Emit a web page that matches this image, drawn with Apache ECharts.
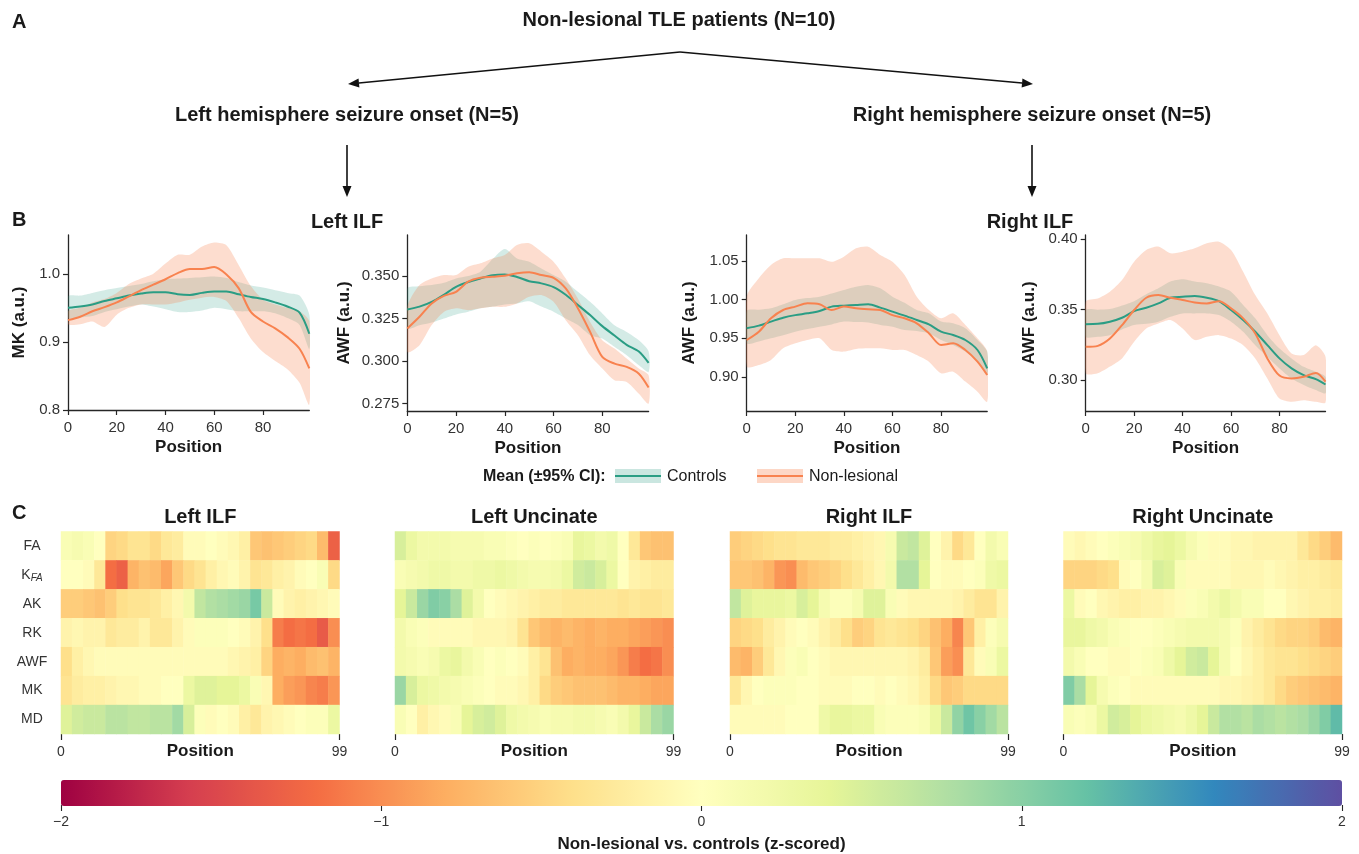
<!DOCTYPE html>
<html><head><meta charset="utf-8">
<script src="https://cdn.jsdelivr.net/npm/echarts@6/dist/echarts.min.js"></script>
<style>html,body{margin:0;padding:0;background:#fff}#c{width:1359px;height:854px}</style>
</head><body><div id="c"></div>
<script>
// ---------- DATA ----------
const positions = [0,5,10,15,20,25,30,35,40,45,50,55,60,65,70,75,80,85,90,95,99];

// Panel B1: Left ILF, MK
const mkCtrlMean = [.950,.952,.955,.960,.964,.968,.971,.973,.973,.970,.969,.972,.974,.974,.970,.966,.963,.958,.952,.943,.912];
const mkCtrlLo   = [.935,.936,.938,.944,.948,.952,.955,.952,.948,.944,.944,.946,.950,.948,.945,.945,.945,.942,.935,.925,.890];
const mkCtrlHi   = [.967,.968,.972,.976,.979,.982,.985,.989,.992,.993,.994,.995,.996,.994,.988,.983,.980,.976,.972,.968,.940];
const mkNlMean   = [.932,.937,.945,.951,.958,.967,.976,.984,.992,1.001,1.007,1.007,1.010,.999,.979,.944,.930,.920,.907,.890,.861];
const mkNlLo     = [.926,.926,.930,.922,.940,.950,.955,.955,.955,.958,.962,.965,.966,.960,.935,.905,.885,.872,.860,.840,.808];
const mkNlHi     = [.945,.950,.958,.963,.972,.985,.993,1.000,1.015,1.028,1.028,1.040,1.046,1.042,1.013,.982,.962,.955,.950,.945,.930];

// Panel B2: Left ILF, AWF
const awfLCtrlMean = [.3303,.332,.3348,.339,.3437,.3465,.3486,.3505,.351,.3495,.347,.3457,.3435,.339,.333,.327,.3205,.315,.3095,.3055,.2988];
const awfLCtrlLo   = [.3191,.321,.3226,.325,.3274,.329,.331,.332,.3333,.3339,.3352,.332,.329,.325,.3211,.3152,.3132,.3083,.3033,.2974,.2935];
const awfLCtrlHi   = [.3427,.344,.3447,.346,.3486,.350,.3526,.360,.366,.3604,.3585,.3545,.3506,.3467,.3407,.3348,.328,.321,.3171,.3122,.3057];
const awfLNlMean   = [.3191,.326,.3339,.3383,.3407,.3467,.349,.3496,.3502,.3516,.3522,.3506,.349,.3427,.331,.3171,.3024,.2984,.2965,.2925,.2843];
const awfLNlLo     = [.3053,.3093,.3211,.3289,.331,.3299,.331,.3319,.3319,.3339,.3378,.3388,.3348,.324,.3152,.3033,.2955,.2886,.2876,.2807,.2748];
const awfLNlHi     = [.3319,.3447,.3486,.3506,.3506,.3555,.3575,.3604,.3624,.3683,.3693,.3644,.3585,.3486,.3368,.323,.3122,.3073,.3014,.2955,.2915];

// Panel B3: Right ILF, AWF (first)
const awfR1CtrlMean = [.963,.9664,.9716,.9767,.980,.9823,.9853,.991,.9922,.9931,.994,.9897,.9845,.9793,.9737,.968,.9586,.9543,.9478,.9349,.9112];
const awfR1CtrlLo   = [.9435,.946,.950,.954,.9586,.962,.9651,.968,.9716,.971,.9703,.9672,.9651,.9608,.9595,.9565,.9478,.9414,.9328,.9198,.9026];
const awfR1CtrlHi   = [.9853,.987,.9888,.994,.9996,1.002,1.0039,1.008,1.0125,1.0168,1.019,1.0147,1.0039,.996,.9866,.9823,.9716,.9694,.963,.9478,.9328];
const awfR1NlMean   = [.9478,.9586,.9759,.9866,.991,.9953,.994,.9866,.991,.9888,.9875,.9866,.980,.9759,.9694,.9565,.9414,.9435,.9349,.9198,.9026];
const awfR1NlLo     = [.9134,.9155,.922,.937,.9435,.9478,.950,.9349,.9328,.9362,.937,.937,.9349,.9349,.9284,.9198,.9047,.9069,.894,.881,.868];
const awfR1NlHi     = [1.0039,1.0276,1.0448,1.0534,1.0534,1.0534,1.0534,1.049,1.0556,1.0664,1.0685,1.0578,1.049,1.0319,1.0039,.9866,.9759,.9823,.9672,.950,.9328];

// Panel B4: Right ILF, AWF (second)
const awfR2CtrlMean = [.3398,.340,.3415,.3443,.349,.3514,.3545,.3585,.3592,.3597,.3585,.3561,.3498,.3427,.3344,.3249,.3155,.3084,.3036,.3008,.297];
const awfR2CtrlLo   = [.3308,.3308,.332,.336,.3391,.340,.3415,.345,.3474,.3474,.3474,.3462,.3415,.3344,.3249,.3167,.3084,.3013,.2967,.2931,.2908];
const awfR2CtrlHi   = [.3498,.350,.3505,.353,.3561,.361,.3652,.370,.3716,.370,.3687,.3664,.3628,.3534,.3439,.332,.3225,.3155,.3095,.306,.3024];
const awfR2NlMean   = [.3237,.3244,.3296,.3391,.3498,.3585,.3604,.3585,.3569,.3552,.3545,.3561,.351,.3439,.3332,.3155,.3033,.3013,.3025,.3052,.299];
const awfR2NlLo     = [.305,.305,.3097,.3155,.3273,.3367,.3403,.3427,.3367,.3285,.3308,.332,.3296,.3249,.3155,.3013,.287,.2847,.2858,.2847,.2842];
const awfR2NlHi     = [.3557,.358,.3628,.3711,.3841,.3924,.3948,.390,.3912,.3936,.3972,.3983,.3924,.377,.3604,.3474,.332,.319,.3179,.3249,.3167];

// Tick labels
const xTicksLine = [0,20,40,60,80];
const yTicksB1 = [0.8,0.9,1.0];
const yTicksB2 = [0.275,0.3,0.325,0.35];
const yTicksB3 = [0.9,0.95,1.0,1.05];
const yTicksB4 = [0.3,0.35,0.4];
const colorbarTicks = [-2,-1,0,1,2];

// Panel C heatmaps: rows FA, KFA, AK, RK, AWF, MK, MD; 25 bins of 4 positions
const rowNames = ['FA','KFA','AK','RK','AWF','MK','MD'];
const binStarts = ['0','4','8','12','16','20','24','28','32','36','40','44','48','52','56','60','64','68','72','76','80','84','88','92','96'];
const hmLeftILF = [
 [0.1,0.15,0.1,0,-0.5,-0.45,-0.35,-0.35,-0.45,-0.3,-0.25,-0.05,-0.05,0,-0.05,-0.1,-0.2,-0.6,-0.65,-0.6,-0.55,-0.5,-0.45,-0.7,-1.3],
 [0,0,-0.05,-0.3,-1.2,-1.3,-0.75,-0.65,-0.7,-0.85,-0.6,-0.45,-0.35,-0.2,-0.1,-0.05,-0.15,-0.35,-0.3,-0.2,-0.15,-0.05,0,0.1,-0.45],
 [-0.55,-0.55,-0.6,-0.65,-0.55,-0.4,-0.35,-0.35,-0.3,-0.2,-0.1,0.2,0.65,0.75,0.8,0.85,0.9,1.1,0.6,-0.05,-0.15,-0.2,-0.15,-0.1,-0.05],
 [-0.15,-0.1,-0.15,-0.15,-0.3,-0.25,-0.25,-0.15,-0.3,-0.3,-0.15,-0.05,0.05,0.05,0.05,0,-0.05,-0.15,-0.4,-1.1,-1.2,-1.15,-1.2,-1.35,-1.0],
 [-0.4,-0.2,-0.1,-0.05,-0.05,-0.05,-0.05,-0.05,-0.05,-0.05,-0.05,-0.05,-0.05,-0.05,-0.05,-0.1,-0.15,-0.2,-0.5,-0.8,-0.75,-0.8,-0.7,-0.65,-0.75],
 [-0.35,-0.25,-0.2,-0.2,-0.15,-0.1,-0.1,-0.05,-0.05,0,0,0.3,0.45,0.45,0.4,0.4,0.3,0.1,-0.1,-0.8,-0.9,-0.95,-1.05,-1.1,-0.95],
 [0.45,0.55,0.6,0.6,0.7,0.7,0.65,0.65,0.7,0.7,0.85,0.5,0.05,-0.05,0,-0.05,-0.2,-0.3,-0.15,-0.1,-0.05,0,0.05,0.05,0.3]
];
const hmLeftUnc = [
 [0.5,0.3,0.2,0.2,0.2,0.15,0.15,0.15,0.1,0.1,0.05,0,0.05,0,0.05,0.1,0.35,0.3,0.2,0.25,0,-0.3,-0.6,-0.65,-0.65],
 [0.1,0.15,0.2,0.25,0.25,0.2,0.2,0.25,0.25,0.3,0.25,0.2,0.15,0.15,0.2,0.3,0.55,0.6,0.5,0.3,0,-0.15,-0.2,-0.25,-0.25],
 [0.4,0.6,0.9,1.05,1.0,0.8,0.45,0.2,0,-0.05,-0.1,-0.15,-0.2,-0.25,-0.25,-0.3,-0.3,-0.3,-0.3,-0.3,-0.35,-0.3,-0.35,-0.35,-0.3],
 [0.2,0.1,0.05,-0.05,-0.05,-0.05,-0.05,-0.1,-0.1,-0.1,-0.15,-0.35,-0.6,-0.7,-0.75,-0.7,-0.75,-0.8,-0.75,-0.8,-0.8,-0.85,-0.9,-0.95,-1.0],
 [0.2,0.15,0.1,0.15,0.3,0.35,0.2,0.1,0,0.05,0,-0.05,-0.2,-0.35,-0.65,-0.8,-0.75,-0.8,-0.8,-0.85,-0.95,-1.1,-1.2,-1.15,-1.0],
 [0.9,0.5,0.3,0.25,0.2,0.15,0.1,0.05,0,-0.05,-0.05,-0.1,-0.2,-0.45,-0.55,-0.6,-0.65,-0.65,-0.65,-0.7,-0.75,-0.75,-0.8,-0.85,-0.85],
 [0.1,0,-0.2,-0.1,-0.05,0.1,0.4,0.5,0.55,0.45,0.25,0.2,0.15,0.1,0.15,0.15,0.2,0.2,0.15,0.1,0.2,0.35,0.6,0.8,0.9]
];
const hmRightILF = [
 [-0.55,-0.5,-0.45,-0.4,-0.35,-0.35,-0.3,-0.3,-0.3,-0.25,-0.25,-0.2,-0.15,-0.1,0.15,0.6,0.65,0.45,0,-0.15,-0.45,-0.3,0,0.2,0.1],
 [-0.6,-0.6,-0.65,-0.75,-0.95,-1.0,-0.7,-0.6,-0.55,-0.5,-0.4,-0.3,-0.2,-0.1,0.2,0.75,0.75,0.4,0,-0.05,-0.05,0,0.05,0.25,0.3],
 [0.65,0.45,0.35,0.35,0.35,0.3,0.5,0.4,0.15,0.05,0.05,0.15,0.45,0.45,0.1,-0.05,-0.1,-0.1,-0.1,-0.1,-0.15,-0.25,-0.35,-0.35,-0.15],
 [-0.5,-0.45,-0.4,-0.25,-0.15,-0.05,0,-0.05,-0.15,-0.25,-0.4,-0.55,-0.5,-0.35,-0.3,-0.35,-0.4,-0.5,-0.65,-0.8,-1.05,-0.6,-0.2,0.05,0.15],
 [-0.7,-0.75,-0.55,-0.3,-0.1,0.05,0.1,0,-0.05,-0.1,-0.1,-0.1,-0.1,-0.1,-0.1,-0.1,-0.15,-0.25,-0.6,-0.9,-1.0,-0.3,-0.05,0.1,0.3],
 [-0.3,-0.1,0,0.05,0.05,0.05,0,0,-0.05,-0.05,-0.05,0,0,-0.05,0,-0.05,-0.1,-0.2,-0.45,-0.6,-0.55,-0.45,-0.45,-0.45,-0.45],
 [-0.05,-0.05,-0.05,-0.05,-0.05,0,0,0,0.25,0.35,0.35,0.3,0.3,0.1,0.05,0.05,0.05,0.1,0.3,0.6,0.95,1.15,1.0,0.85,0.7]
];
const hmRightUnc = [
 [-0.05,-0.1,-0.05,0,0.05,0.1,0.15,0.25,0.35,0.4,0.3,0.15,0.05,-0.05,-0.05,-0.1,-0.1,-0.15,-0.15,-0.15,-0.15,-0.3,-0.45,-0.55,-0.7],
 [-0.5,-0.5,-0.5,-0.45,-0.4,-0.05,0,0.15,0.5,0.45,0.1,-0.05,-0.05,-0.05,-0.05,-0.1,-0.1,-0.1,-0.05,-0.1,-0.15,-0.2,-0.2,-0.25,-0.3],
 [0.3,-0.05,0,-0.1,-0.15,-0.2,-0.2,-0.15,-0.15,-0.1,-0.05,0.05,0.1,0.2,0.3,0.2,0.1,0.1,0,0,-0.1,-0.15,-0.2,-0.2,-0.25],
 [0.35,0.35,0.25,0.2,0.1,0.05,0,0,0.05,0.1,0.15,0.2,0.2,0.2,0.15,0.05,-0.15,-0.25,-0.35,-0.45,-0.5,-0.5,-0.55,-0.7,-0.75],
 [0.2,0.1,0,0,-0.05,-0.05,0,0.05,0.1,0.25,0.4,0.55,0.6,0.4,0.15,0,-0.1,-0.2,-0.3,-0.35,-0.35,-0.4,-0.45,-0.5,-0.55],
 [1.05,0.8,0.4,0.15,0.05,0,-0.05,-0.05,-0.05,-0.05,-0.05,-0.05,-0.05,-0.05,-0.1,-0.1,-0.15,-0.2,-0.3,-0.45,-0.55,-0.6,-0.65,-0.7,-0.75],
 [0.1,0.05,0.1,0.3,0.55,0.5,0.4,0.3,0.25,0.2,0.15,0.25,0.4,0.6,0.75,0.75,0.7,0.8,0.75,0.7,0.75,0.8,0.9,1.05,1.25]
];

// ---------- STYLE / LAYOUT ----------
const F = '"Liberation Sans", Arial, Helvetica, sans-serif';
const TXT = '#1a1a1a', AX = '#262626', LBL = '#333333';
const TEAL = '#2a9d84', ORANGE = '#f8824f';
const SPECTRAL = ['#9e0142','#d53e4f','#f46d43','#fdae61','#fee08b','#ffffbf','#e6f598','#abdda4','#66c2a5','#3288bd','#5e4fa2'];

const chart = echarts.init(document.getElementById('c'), null, {renderer:'canvas'});

const lineGrids = [
  {left:68, top:235, width:241.3, height:175},
  {left:407.3, top:235, width:241.3, height:176},
  {left:746.7, top:235, width:240.5, height:176},
  {left:1085.7, top:235, width:239.8, height:176}
];
const yCfg = [
  {min:0.8, max:1.057, ticks:yTicksB1, dec:1, name:'MK (a.u.)', gap:40},
  {min:0.2705, max:0.3742, ticks:yTicksB2, dec:3, name:'AWF (a.u.)', gap:54},
  {min:0.856, max:1.0836, ticks:yTicksB3, dec:2, name:'AWF (a.u.)', gap:49},
  {min:0.2782, max:0.403, ticks:yTicksB4, dec:2, name:'AWF (a.u.)', gap:48}
];
const hmGrids = [
  {left:61, top:531.5, width:278.5, height:202.5},
  {left:395, top:531.5, width:278.5, height:202.5},
  {left:730, top:531.5, width:278, height:202.5},
  {left:1063.5, top:531.5, width:278.5, height:202.5}
];
const hmTitles = ['Left ILF','Left Uncinate','Right ILF','Right Uncinate'];
const hmData = [hmLeftILF, hmLeftUnc, hmRightILF, hmRightUnc];

const grids = lineGrids.concat(hmGrids).concat([{left:61, top:780, width:1281, height:26}]);

const axLine = {show:true, lineStyle:{color:AX, width:1.3}};
const xAxes = [], yAxes = [];
lineGrids.forEach((g,i)=>{
  xAxes.push({type:'value', gridIndex:i, min:0, max:99,
    axisLine:axLine, splitLine:{show:false},
    axisTick:{show:true, length:5, lineStyle:{color:AX, width:1.2}, customValues:xTicksLine},
    axisLabel:{customValues:xTicksLine, fontSize:15, color:LBL, fontFamily:F, margin:10},
    name:'Position', nameLocation:'middle', nameGap:29, nameMoveOverlap:false,
    nameTextStyle:{fontSize:17, fontWeight:'bold', color:TXT, fontFamily:F}});
  const c = yCfg[i];
  yAxes.push({type:'value', gridIndex:i, min:c.min, max:c.max,
    axisLine:axLine, splitLine:{show:false},
    axisTick:{show:true, length:5, lineStyle:{color:AX, width:1.2}, customValues:c.ticks},
    axisLabel:{customValues:c.ticks, fontSize:15, color:LBL, fontFamily:F, margin:8,
      formatter:(v)=>Number(v).toFixed(c.dec)},
    name:c.name, nameLocation:'middle', nameGap:c.gap, nameMoveOverlap:false,
    nameTextStyle:{fontSize:17, fontWeight:'bold', color:TXT, fontFamily:F}});
});
hmGrids.forEach((g,j)=>{
  xAxes.push({type:'category', gridIndex:4+j, data:binStarts, show:false, position:'top'});
  yAxes.push({type:'category', gridIndex:4+j, data:rowNames, inverse:true,
    axisLine:{show:false}, axisTick:{show:false}, splitLine:{show:false},
    axisLabel:{show:j===0, fontSize:14, color:LBL, fontFamily:F, margin:29, align:'center',
      formatter:(v)=> v==='KFA' ? '{k|K}{s|FA}' : v,
      rich:{k:{fontSize:14, color:LBL, fontFamily:F},
            s:{fontSize:10, fontStyle:'italic', color:LBL, fontFamily:F, padding:[7,0,0,0]}}}});
});
hmGrids.forEach((g,j)=>{
  xAxes.push({type:'value', gridIndex:4+j, min:0, max:99, interval:99, position:'bottom',
    axisLine:{show:false}, splitLine:{show:false},
    axisTick:{show:true, length:6, lineStyle:{color:AX, width:1.2}},
    axisLabel:{fontSize:14, color:LBL, fontFamily:F, margin:11},
    name:'Position', nameLocation:'middle', nameGap:9, nameMoveOverlap:false,
    nameTextStyle:{fontSize:17, fontWeight:'bold', color:TXT, fontFamily:F}});
});
xAxes.push({type:'value', gridIndex:8, min:-2, max:2, interval:1, position:'bottom',
  axisLine:{show:false}, splitLine:{show:false},
  axisTick:{show:true, length:6, lineStyle:{color:AX, width:1.1}, customValues:colorbarTicks},
  axisLabel:{customValues:colorbarTicks, fontSize:14, color:LBL, fontFamily:F, margin:10,
    formatter:(v)=>String(v).replace('-','\u2212')},
  name:'Non-lesional vs. controls (z-scored)', nameLocation:'middle', nameGap:31, nameMoveOverlap:false,
  nameTextStyle:{fontSize:17, fontWeight:'bold', color:TXT, fontFamily:F}});
yAxes.push({type:'value', gridIndex:8, show:false, min:0, max:1});

// ---------- SERIES ----------
function bandSeries(gi, lo, hi, color, op){
  return {type:'custom', coordinateSystem:'cartesian2d', xAxisIndex:gi, yAxisIndex:gi,
    silent:true, clip:true, z:1,
    data: positions.map((p,i)=>[p, lo[i], hi[i]]),
    encode:{x:0, y:[1,2]},
    renderItem:function(params, api){
      if (params.dataIndex !== 0) return null;
      const up = positions.map((p,i)=>api.coord([p, hi[i]]));
      const dn = positions.map((p,i)=>api.coord([p, lo[i]])).reverse();
      return {type:'polygon', shape:{points:up.concat(dn), smooth:0.25},
        style:{fill:color, opacity:op}};
    }};
}
function meanSeries(gi, mean, color){
  return {type:'line', xAxisIndex:gi, yAxisIndex:gi, silent:true, z:3,
    data: positions.map((p,i)=>[p, mean[i]]), symbol:'none', showSymbol:false,
    smooth:0.3, lineStyle:{color:color, width:2}, clip:true};
}
const plots = [
  [mkCtrlLo, mkCtrlHi, mkCtrlMean, mkNlLo, mkNlHi, mkNlMean],
  [awfLCtrlLo, awfLCtrlHi, awfLCtrlMean, awfLNlLo, awfLNlHi, awfLNlMean],
  [awfR1CtrlLo, awfR1CtrlHi, awfR1CtrlMean, awfR1NlLo, awfR1NlHi, awfR1NlMean],
  [awfR2CtrlLo, awfR2CtrlHi, awfR2CtrlMean, awfR2NlLo, awfR2NlHi, awfR2NlMean]
];
const series = [];
plots.forEach((p,i)=>{
  series.push(bandSeries(i, p[0], p[1], TEAL, 0.2));
  series.push(bandSeries(i, p[3], p[4], ORANGE, 0.27));
  series.push(meanSeries(i, p[2], TEAL));
  series.push(meanSeries(i, p[5], ORANGE));
});
const hmIdx = [];
hmData.forEach((rows,j)=>{
  const d = [];
  rows.forEach((r,ri)=>r.forEach((v,k)=>d.push([k, ri, v])));
  hmIdx.push(series.length);
  series.push({type:'heatmap', xAxisIndex:4+j, yAxisIndex:4+j, data:d, silent:true,
    itemStyle:{borderWidth:0}, emphasis:{disabled:true}});
});

// ---------- GRAPHICS (titles, arrows, legend) ----------
function txt(s, x, y, size, bold, align){
  return {type:'text', x:x, y:y, silent:true, z:10,
    style:{text:s, font:(bold?'bold ':'')+size+'px '+F, fill:TXT,
      textAlign:align||'center', align:align||'center',
      textVerticalAlign:'middle', verticalAlign:'middle'}};
}
function arrow(x1,y1,x2,y2){
  const dx=x2-x1, dy=y2-y1, L=Math.hypot(dx,dy), ux=dx/L, uy=dy/L;
  const hl=11, hw=4.5, bx=x2-ux*hl, by=y2-uy*hl;
  return [
    {type:'line', silent:true, shape:{x1:x1,y1:y1,x2:bx,y2:by}, style:{stroke:'#111', lineWidth:1.6}},
    {type:'polygon', silent:true, shape:{points:[[x2,y2],[bx-uy*hw,by+ux*hw],[bx+uy*hw,by-ux*hw]]}, style:{fill:'#111'}}
  ];
}
const graphics = [
  txt('A', 12, 22, 20, true, 'left'),
  txt('Non-lesional TLE patients (N=10)', 679, 20, 20, true),
  ...arrow(680, 52, 348, 84),
  ...arrow(680, 52, 1033, 84),
  txt('Left hemisphere seizure onset (N=5)', 347, 115, 20, true),
  txt('Right hemisphere seizure onset (N=5)', 1032, 115, 20, true),
  ...arrow(347, 145, 347, 197),
  ...arrow(1032, 145, 1032, 197),
  txt('B', 12, 220, 20, true, 'left'),
  txt('Left ILF', 347, 222, 20, true),
  txt('Right ILF', 1030, 222, 20, true),
  txt('Mean (\u00b195% CI):', 483, 477, 16, true, 'left'),
  {type:'rect', silent:true, shape:{x:615, y:469, width:46, height:14}, style:{fill:TEAL, opacity:0.25}},
  {type:'line', silent:true, shape:{x1:615, y1:476, x2:661, y2:476}, style:{stroke:TEAL, lineWidth:2}},
  txt('Controls', 667, 477, 16, false, 'left'),
  {type:'rect', silent:true, shape:{x:757, y:469, width:46, height:14}, style:{fill:ORANGE, opacity:0.32}},
  {type:'line', silent:true, shape:{x1:757, y1:476, x2:803, y2:476}, style:{stroke:ORANGE, lineWidth:2}},
  txt('Non-lesional', 809, 477, 16, false, 'left'),
  txt('C', 12, 513, 20, true, 'left')
];
hmGrids.forEach((g,j)=>graphics.push(txt(hmTitles[j], g.left + g.width/2, 517, 20, true)));

chart.setOption({
  animation:false,
  backgroundColor:'#fff',
  textStyle:{fontFamily:F},
  grid:grids,
  xAxis:xAxes,
  yAxis:yAxes,
  visualMap:{type:'continuous', min:-2, max:2, seriesIndex:hmIdx, calculable:false,
    orient:'horizontal', left:61, top:780, itemWidth:26, itemHeight:1281, padding:0,
    text:null, showLabel:false, hoverLink:false, inRange:{color:SPECTRAL}},
  series:series,
  graphic:graphics
});
</script></body></html>
